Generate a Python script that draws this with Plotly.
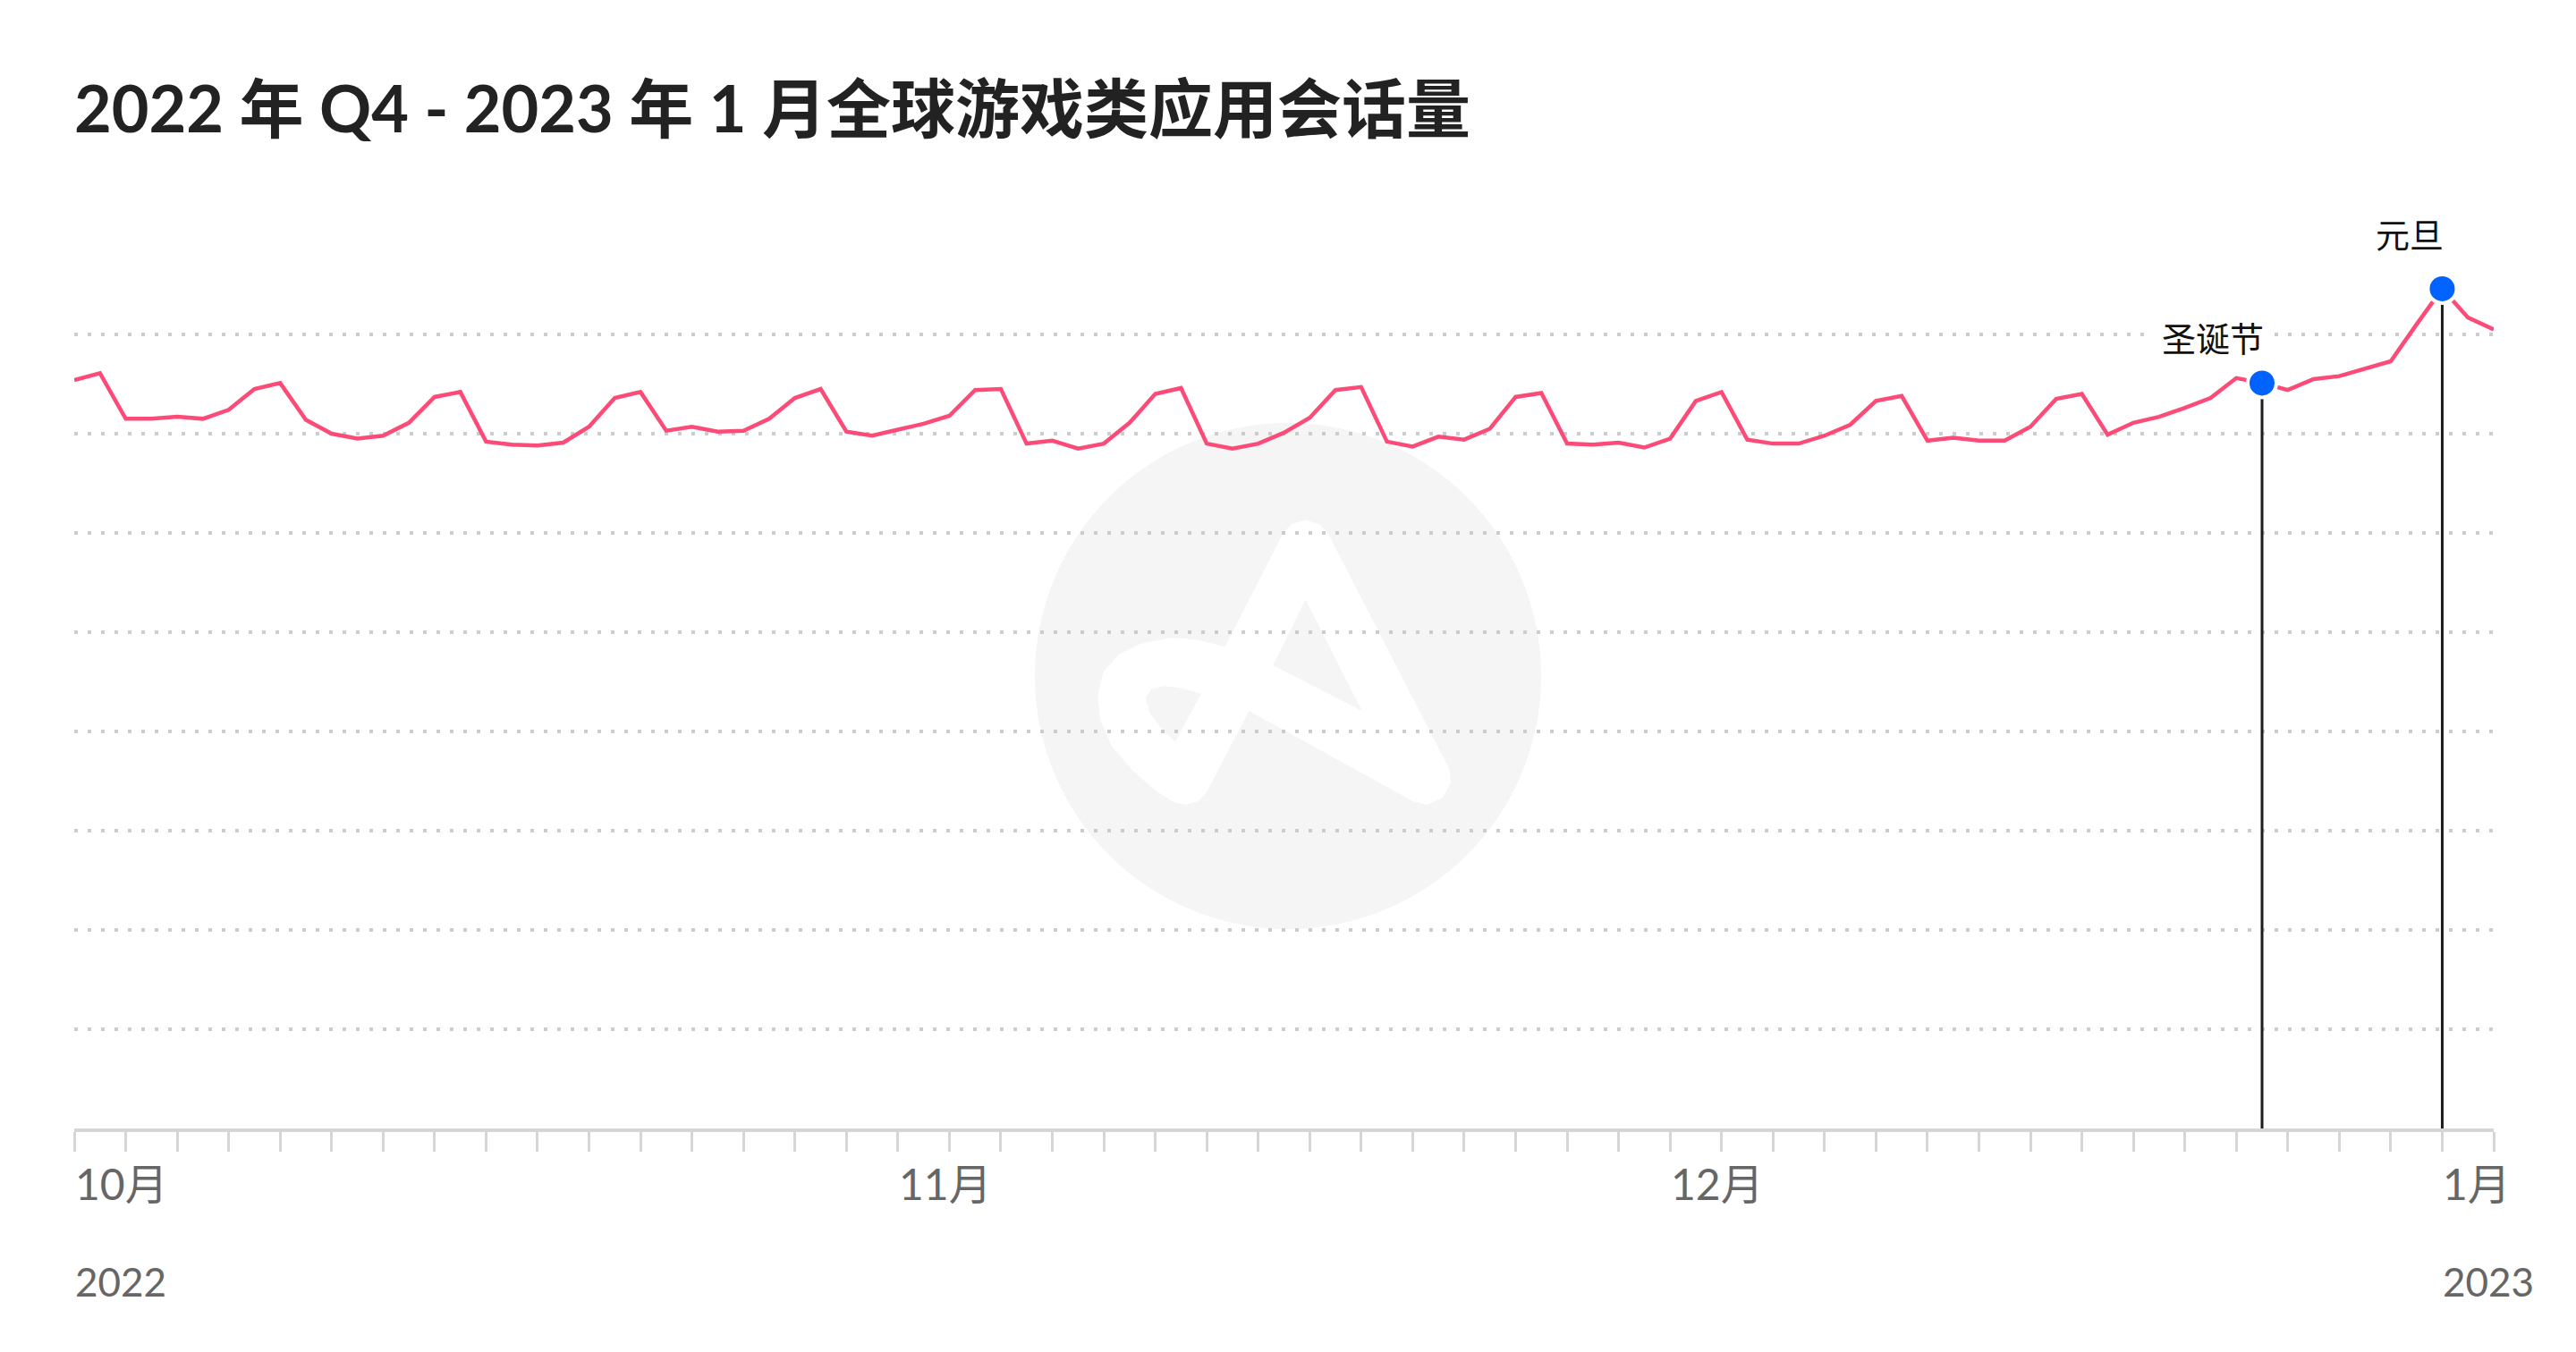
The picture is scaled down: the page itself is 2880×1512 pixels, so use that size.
import plotly.graph_objects as go
import pandas as pd

# ---------------- data ----------------
start_date = "2022-10-01"
end_date = "2023-01-03"
# daily global game-app sessions (relative units; gridline spacing = 1 unit)
sessions = [
    7.54, 7.61, 7.15, 7.15, 7.17, 7.15, 7.24, 7.45, 7.51, 7.14,
    7.00, 6.95, 6.98, 7.11, 7.37, 7.42, 6.92, 6.89, 6.88, 6.91,
    7.07, 7.36, 7.42, 7.03, 7.07, 7.02, 7.03, 7.15, 7.36, 7.45,
    7.02, 6.98, 7.04, 7.10, 7.18, 7.44, 7.45, 6.90, 6.93, 6.85,
    6.90, 7.11, 7.40, 7.46, 6.90, 6.85, 6.90, 7.01, 7.16, 7.44,
    7.47, 6.92, 6.87, 6.97, 6.94, 7.05, 7.37, 7.41, 6.90, 6.89,
    6.91, 6.86, 6.95, 7.33, 7.42, 6.94, 6.90, 6.90, 6.98, 7.09,
    7.33, 7.38, 6.93, 6.96, 6.93, 6.93, 7.07, 7.35, 7.40, 6.99,
    7.11, 7.17, 7.26, 7.36, 7.56, 7.51, 7.44, 7.55, 7.58, 7.66,
    7.73, 8.10, 8.46, 8.17, 8.05,
]
event_names = ["圣诞节", "元旦"]
event_dates = ["2022-12-25", "2023-01-01"]
grid_values = [1, 2, 3, 4, 5, 6, 7, 8, 9]
title_text = "2022 年 Q4 - 2023 年 1 月全球游戏类应用会话量"

# ---------------- style ----------------
W, H = 2880, 1512
ML, MR, MT, MB = 83, 92, 263, 250
PW, PH = W - ML - MR, H - MT - MB
PINK = "#fd4b78"
BLUE = "#0062ff"
GRID = "#cccccc"
AXIS = "#d6d6d6"
LABEL = "#666666"
FONT = "Lato, 'Noto Sans CJK SC', sans-serif"
event_label_shift = [50, 61]

dates = pd.date_range(start_date, end_date, freq="D")
tick_dates = pd.date_range(start_date, end_date, freq="2D")
date_index = {d.strftime("%Y-%m-%d"): i for i, d in enumerate(dates)}
event_values = [sessions[date_index[d]] for d in event_dates]

fig = go.Figure()
fig.add_trace(go.Scatter(
    x=dates, y=sessions, mode="lines",
    line=dict(color=PINK, width=4.5), hoverinfo="skip", cliponaxis=False,
))
for d, v in zip(event_dates, event_values):
    fig.add_trace(go.Scatter(
        x=[d, d], y=[0, v], mode="lines",
        line=dict(color="#1c1c1c", width=3), hoverinfo="skip", cliponaxis=False,
    ))
fig.add_trace(go.Scatter(
    x=event_dates, y=event_values, mode="markers",
    marker=dict(size=32, color=BLUE, line=dict(color="white", width=4)),
    hoverinfo="skip", cliponaxis=False,
))

annotations = []
for name, d, v, sh in zip(event_names, event_dates, event_values, event_label_shift):
    annotations.append(dict(
        x=d, y=v, xref="x", yref="y", text=name, showarrow=False,
        xanchor="right", yanchor="middle", xshift=13, yshift=sh,
        font=dict(family=FONT, size=38, color="#111111"),
        bgcolor="white", borderpad=10,
    ))

prev_month = None
prev_year = None
for t in tick_dates:
    if t.month != prev_month:
        annotations.append(dict(
            x=t, y=0, xref="x", yref="paper", text=f"{t.month}月", showarrow=False,
            xanchor="left", yanchor="middle", yshift=-61, xshift=-1,
            font=dict(family=FONT, size=48, color=LABEL),
        ))
        if t.year != prev_year:
            annotations.append(dict(
                x=t, y=0, xref="x", yref="paper", text=str(t.year), showarrow=False,
                xanchor="left", yanchor="middle", yshift=-171, xshift=-1,
                font=dict(family=FONT, size=44, color=LABEL),
            ))
        prev_month = t.month
        prev_year = t.year


# watermark (decoration, pixel layout -> paper coords)
def to_paper(x, y):
    return (x - ML) / PW, (MT + PH - y) / PH


def path_from(points):
    pts = [to_paper(x, y) for x, y in points]
    return "M " + " L ".join(f"{px:.5f},{py:.5f}" for px, py in pts) + " Z"


cx, cy, r = 1440, 756, 283
x0, y0 = to_paper(cx - r, cy + r)
x1, y1 = to_paper(cx + r, cy - r)
shapes = [dict(type="circle", xref="paper", yref="paper", x0=x0, y0=y0, x1=x1, y1=y1,
               fillcolor="#f5f5f5", line=dict(width=0), layer="below")]
logo_outer = [
    (1459.6, 581.7), (1475, 586), (1484.4, 595.9), (1620.3, 859.9), (1622.2, 875.2),
    (1612.6, 892.5), (1595.4, 900.1), (1580.1, 896.3), (1396.4, 794.9), (1348.6, 886.7),
    (1339, 896.3), (1325.6, 900.1), (1312.2, 897), (1293, 884.8), (1266.3, 861.8),
    (1243.3, 835), (1229.9, 804.4), (1227.3, 777.6), (1233.8, 750.9), (1251, 731.7),
    (1274, 720.2), (1308.4, 713.3), (1339, 715.6), (1369.6, 723.3), (1434.7, 595.9),
    (1444, 586),
]
hole_triangle = [(1459.6, 670.5), (1522.7, 794.9), (1423.2, 744)]
hole_loop = [(1342.8, 775.7), (1314.1, 829.3), (1300.7, 817.8), (1285.4, 796.8),
             (1280.8, 780.7), (1287.3, 770.8), (1300.7, 767.3), (1319.9, 769.2)]
shapes.append(dict(type="path", xref="paper", yref="paper", path=path_from(logo_outer),
                   fillcolor="white", line=dict(width=0), layer="below"))
for hole in (hole_triangle, hole_loop):
    shapes.append(dict(type="path", xref="paper", yref="paper", path=path_from(hole),
                       fillcolor="#f5f5f5", line=dict(width=0), layer="below"))

fig.update_layout(
    width=W, height=H,
    margin=dict(l=ML, r=MR, t=MT, b=MB, pad=0),
    paper_bgcolor="white", plot_bgcolor="rgba(0,0,0,0)",
    showlegend=False,
    title=dict(
        text=title_text, x=0, xref="paper", xanchor="left",
        y=1 - 123 / H, yref="container", yanchor="middle",
        font=dict(family=FONT, size=72, color="#222222", weight="bold"),
    ),
    xaxis=dict(
        type="date", range=[start_date, end_date],
        tickmode="array", tickvals=list(tick_dates), showticklabels=False,
        ticks="outside", ticklen=22, tickwidth=3, tickcolor=AXIS,
        showline=True, linecolor=AXIS, linewidth=4,
        showgrid=False, zeroline=False, fixedrange=True,
    ),
    yaxis=dict(
        range=[0, 9], tickmode="array", tickvals=grid_values, showticklabels=False,
        showgrid=True, gridcolor=GRID, gridwidth=4, griddash="4px,11px",
        zeroline=False, showline=False, ticks="", fixedrange=True,
    ),
    annotations=annotations,
    shapes=shapes,
)

fig.write_html(
    "out.html",
    config={"displayModeBar": False},
    post_script="document.body.style.margin='0';document.body.style.overflow='hidden';",
)
